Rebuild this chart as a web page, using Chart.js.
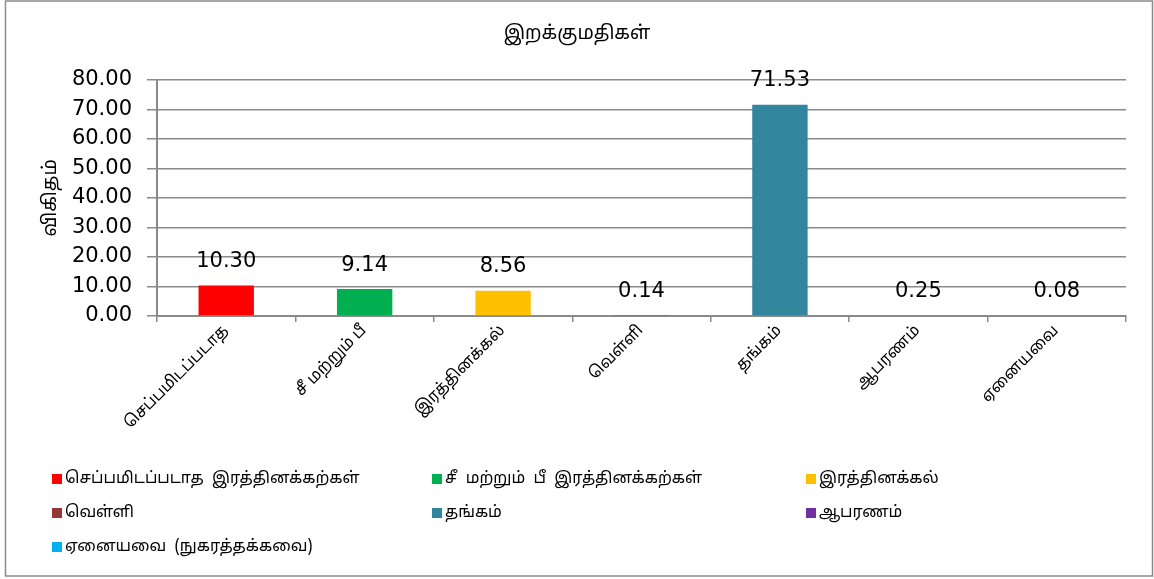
<!DOCTYPE html>
<html>
<head>
<meta charset="utf-8">
<script src="https://cdn.jsdelivr.net/npm/chart.js@4.4.1/dist/chart.umd.min.js"></script>
<style>
  body { margin: 0; background: #fff; }
  #wrap { position: relative; width: 1154px; height: 579px; }
  #legend {
    position: absolute; left: 52px; top: 462px;
    display: grid; grid-template-columns: 380px 374px 300px; grid-auto-rows: 34px;
    font-family: Latha, 'Noto Sans Tamil', 'Lohit Tamil', 'Noto Sans', sans-serif; font-size: 16px; color: #000;
  }
  #legend .item { display: flex; align-items: center; white-space: pre; }
  #legend .box { width: 10px; height: 10px; margin-right: 3px; flex: none; }
</style>
</head>
<body>
<div id="wrap">
  <canvas id="chart" width="1154" height="579"></canvas>
  <div id="legend"></div>
</div>
<script>
// Import share by category (percent)

const CATEGORIES = [
  'செப்பமிடப்படாத',
  'சீ மற்றும் பீ',
  'இரத்தினக்கல்',
  'வெள்ளி',
  'தங்கம்',
  'ஆபரணம்',
  'ஏனையவை'
];
const LEGEND_LABELS = [
  'செப்பமிடப்படாத  இரத்தினக்கற்கள்',
  'சீ  மற்றும்  பீ  இரத்தினக்கற்கள்',
  'இரத்தினக்கல்',
  'வெள்ளி',
  'தங்கம்',
  'ஆபரணம்',
  'ஏனையவை  (நுகரத்தக்கவை)'
];
const VALUES = [10.30, 9.14, 8.56, 0.14, 71.53, 0.25, 0.08];
const COLORS = ['#ff0000', '#00b050', '#ffc000', '#953735', '#31859c', '#7030a0', '#00b0f0'];
const Y_TICKS = { min: 0, max: 80, step: 10 };

const TAMIL = "Latha, 'Noto Sans Tamil', 'Lohit Tamil', 'Noto Sans', sans-serif";
const NUM = "'DejaVu Sans', sans-serif";
const GRID = '#8a8a8a';

const frame = {
  id: 'frame',
  afterDraw(chart) {
    const ctx = chart.ctx;
    ctx.save();
    ctx.strokeStyle = '#8a8a8a';
    ctx.lineWidth = 1.5;
    ctx.strokeRect(5.5, 1, 1147, 575);
    ctx.restore();
  }
};

const valueLabels = {
  id: 'valueLabels',
  afterDatasetsDraw(chart) {
    const ctx = chart.ctx;
    const meta = chart.getDatasetMeta(0);
    ctx.save();
    ctx.font = '21px ' + NUM;
    ctx.fillStyle = '#000';
    ctx.textAlign = 'center';
    ctx.textBaseline = 'alphabetic';
    meta.data.forEach((bar, i) => {
      ctx.fillText(VALUES[i].toFixed(2), bar.x, bar.y - 18.5);
    });
    ctx.restore();
  }
};

new Chart(document.getElementById('chart').getContext('2d'), {
  type: 'bar',
  data: {
    labels: CATEGORIES,
    datasets: [{
      data: VALUES,
      backgroundColor: COLORS,
      borderWidth: 0,
      barPercentage: 0.4,
      categoryPercentage: 1,
    }],
  },
  options: {
    responsive: false,
    animation: false,
    layout: { padding: { top: 0, left: 28, right: 28, bottom: 0 } },
    plugins: {
      legend: { display: false },
      tooltip: { enabled: false },
      title: {
        display: true,
        text: 'இறக்குமதிகள்',
        color: '#000',
        font: { family: TAMIL, size: 19, weight: 'normal' },
        padding: { top: 24, bottom: 33 },
      },
    },
    scales: {
      x: {
        grid: { display: true, drawOnChartArea: false, drawTicks: true, tickLength: 6, color: GRID, lineWidth: 1.5 },
        border: { display: true, color: GRID, width: 2 },
        ticks: {
          color: '#000',
          font: { family: TAMIL, size: 16 },
          minRotation: 45,
          maxRotation: 45,
          autoSkip: false,
          padding: 0,
        },
        afterFit(scale) { scale.height = 263; },
      },
      y: {
        min: Y_TICKS.min,
        max: Y_TICKS.max,
        grid: { color: GRID, lineWidth: 1.5, drawTicks: true, tickLength: 10 },
        border: { display: true, color: GRID, width: 2 },
        ticks: {
          stepSize: Y_TICKS.step,
          color: '#000',
          font: { family: NUM, size: 21 },
          padding: 15,
          callback: (v) => Number(v).toFixed(2),
        },
        title: {
          display: true,
          text: 'விகிதம்',
          color: '#000',
          font: { family: TAMIL, size: 19 },
          padding: { top: 13, bottom: 0 },
        },
        afterFit(scale) { scale.width = 129; },
      },
    },
  },
  plugins: [frame, valueLabels],
});

const legendEl = document.getElementById('legend');
LEGEND_LABELS.forEach((label, i) => {
  const item = document.createElement('div');
  item.className = 'item';
  item.innerHTML = '<span class="box" style="background:' + COLORS[i] + '"></span><span></span>';
  item.lastChild.textContent = label;
  legendEl.appendChild(item);
});
</script>
</body>
</html>
